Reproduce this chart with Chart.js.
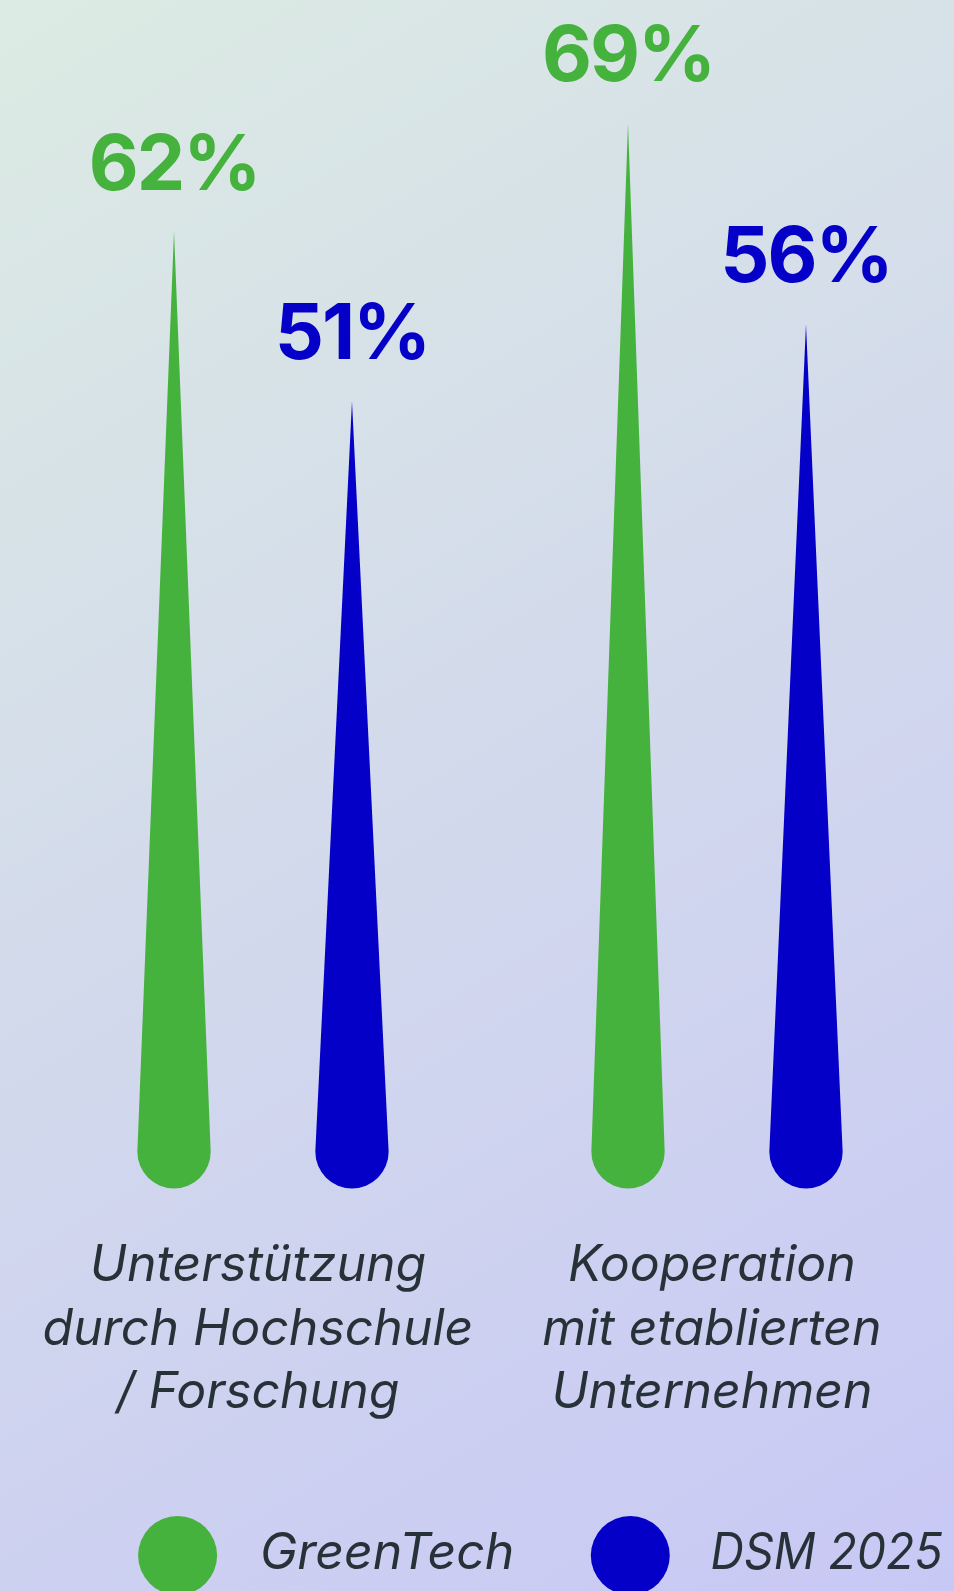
<!DOCTYPE html>
<html>
<head>
<meta charset="utf-8">
<script src="https://cdn.jsdelivr.net/npm/chart.js@4.4.1/dist/chart.umd.min.js"></script>
<style>
  html, body { margin: 0; padding: 0; overflow: hidden; }
  #wrap { width: 954px; height: 1591px; position: relative; }
</style>
</head>
<body>
<div id="wrap"><canvas id="chart"></canvas></div>
<script>
const categories = [
    ['Unterstützung', 'durch Hochschule', '/ Forschung'],
    ['Kooperation', 'mit etablierten', 'Unternehmen']
];
const seriesNames = ['GreenTech', 'DSM 2025'];
const greenTechValues = [62, 69];
const dsmValues = [51, 56];
const seriesColors = ['#46b23e', '#0500c8'];

const textColor = '#263238';
const fontFamily = 'Inter, "Noto Sans", sans-serif';

// soft diagonal background
const backgroundPlugin = {
    id: 'background',
    beforeDraw(chart) {
        const { ctx, width, height } = chart;
        const g = ctx.createLinearGradient(0, 0, width, height);
        g.addColorStop(0, '#dcebe3');
        g.addColorStop(0.5, '#d2d9ec');
        g.addColorStop(1, '#c8c8f5');
        ctx.save();
        ctx.fillStyle = g;
        ctx.fillRect(0, 0, width, height);
        ctx.restore();
    }
};

// bars drawn as spikes with a round foot
const spikePlugin = {
    id: 'spikes',
    beforeDatasetDraw(chart, args) {
        const { ctx } = chart;
        const color = chart.data.datasets[args.index].backgroundColor;
        ctx.save();
        ctx.fillStyle = color;
        args.meta.data.forEach(el => {
            const { x, y, base, width } = el.getProps(['x', 'y', 'base', 'width'], true);
            const r = width / 2;
            const cy = base - r;
            ctx.beginPath();
            ctx.moveTo(x, y);
            ctx.lineTo(x + r, cy);
            ctx.arc(x, cy, r, 0, Math.PI, false);
            ctx.lineTo(x, y);
            ctx.closePath();
            ctx.fill();
        });
        ctx.restore();
        return false;
    },
    afterDatasetsDraw(chart) {
        const { ctx } = chart;
        ctx.save();
        ctx.font = `700 77px ${fontFamily}`;
        if ('letterSpacing' in ctx) ctx.letterSpacing = '-2px';
        ctx.textAlign = 'center';
        ctx.textBaseline = 'alphabetic';
        chart.data.datasets.forEach((ds, i) => {
            const meta = chart.getDatasetMeta(i);
            ctx.fillStyle = ds.backgroundColor;
            meta.data.forEach((el, j) => {
                ctx.fillText(ds.data[j] + '%', el.x, el.y - 42);
            });
        });
        ctx.restore();
    }
};

// legend: big dots with italic names
const legendPlugin = {
    id: 'dotLegend',
    afterDraw(chart) {
        const { ctx } = chart;
        const items = [{ cx: 177.6, tx: 260, w: 259 }, { cx: 630.3, tx: 710.5, w: 232 }];
        const cy = 1555.5;
        ctx.save();
        ctx.font = `italic 400 50px ${fontFamily}`;
        ctx.textBaseline = 'middle';
        ctx.textAlign = 'left';
        chart.data.datasets.forEach((ds, i) => {
            const it = items[i];
            ctx.fillStyle = ds.backgroundColor;
            ctx.beginPath();
            ctx.arc(it.cx, cy, 39.5, 0, Math.PI * 2);
            ctx.fill();
            ctx.fillStyle = textColor;
            ctx.fillText(ds.label, it.tx, cy - 2, it.w);
        });
        ctx.restore();
    }
};

new Chart(document.getElementById('chart'), {
    type: 'bar',
    data: {
        labels: categories,
        datasets: [
            { label: seriesNames[0], data: greenTechValues, backgroundColor: seriesColors[0] },
            { label: seriesNames[1], data: dsmValues, backgroundColor: seriesColors[1] }
        ]
    },
    options: {
        responsive: true,
        maintainAspectRatio: false,
        animation: false,
        devicePixelRatio: 1,
        categoryPercentage: 0.784,
        barPercentage: 0.412,
        layout: { padding: { top: 0, left: 36, right: 10, bottom: 120 } },
        plugins: {
            legend: { display: false },
            tooltip: { enabled: false }
        },
        scales: {
            x: {
                grid: { display: false, drawTicks: false },
                border: { display: false },
                afterFit(scale) {
                    // wide labels must not squeeze the plot sideways
                    scale.paddingLeft = 0;
                    scale.paddingRight = 0;
                },
                ticks: {
                    color: textColor,
                    padding: 46,
                    maxRotation: 0,
                    autoSkip: false,
                    labelOffset: -5,
                    font: { family: fontFamily, size: 50, style: 'italic', lineHeight: 1.27 }
                }
            },
            y: {
                display: false,
                min: 0,
                max: 77
            }
        }
    },
    plugins: [backgroundPlugin, spikePlugin, legendPlugin]
});
</script>
</body>
</html>
